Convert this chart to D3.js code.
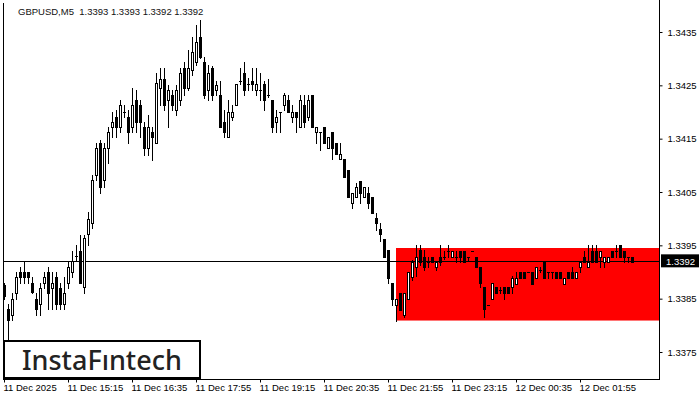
<!DOCTYPE html>
<html><head><meta charset="utf-8">
<script src="https://cdn.jsdelivr.net/npm/d3@7"></script>
<style>body{margin:0;background:#fff}svg{display:block}</style>
</head><body>
<svg id="c" width="700" height="400"></svg>
<script>
const opens=[1.33875,1.3383,1.3382,1.3386,1.3390,1.3390,1.3390,1.3388,1.3385,1.3384,1.3388,1.3390,1.3387,1.3389,1.3387,1.3384,1.3388,1.3390,1.3393,1.3394,1.33871,1.33972,
1.33991,1.34081,1.34141,1.34072,1.34132,1.34171,1.3419,1.34171,1.342,1.3419,1.34171,1.34222,1.34213,1.34171,1.34132,1.34162,1.34141,1.34245,1.34261,1.34222,1.34231,1.34203,1.34222,1.34282,1.34245,1.34278,1.34293,1.3434,1.34293,1.34241,1.34282,1.34241,1.34231,1.34181,1.34153,1.3419,1.34213,1.34259,1.34273,1.34252,1.34259,1.34241,1.34241,1.34252,1.34231,1.34222,1.34181,1.342,1.34213,1.34222,1.3419,1.342,1.34171,1.34213,1.3419,1.34231,
1.34162,1.34162,1.34171,1.34132,1.34162,1.34141,1.34111,1.34111,1.34091,1.34029,1.3404,1.3407,1.3404,1.34049,1.3404,1.34001,1.3398,1.33961,1.33941,1.3388,1.33839,
1.3386,1.3382,1.3385,1.3389,1.33909,1.33941,1.33929,1.33918,1.33929,1.33909,1.33929,1.33929,1.3394,1.33929,1.33929,1.3394,1.3394,1.33929,1.3394,1.33929,1.33909,1.33871,1.33839,1.3385,1.33871,1.33866,1.33871,1.33871,1.33871,1.33877,1.339,1.339,1.339,1.339,1.33888,1.33903,1.33918,1.339,1.339,1.339,1.339,1.33877,1.339,1.339,1.33888,1.33909,1.33929,1.33909,1.3394,1.3394,1.33929,1.33918,1.33918,1.3394,1.3394,1.3395,1.3394,1.33929,1.33929];
const highs=[1.3388,1.3384,1.3386,1.3390,1.3391,1.3392,1.3390,1.3389,1.3386,1.3388,1.3390,1.3391,1.3390,1.3390,1.3388,1.3389,1.3392,1.3394,1.3395,1.3397,1.3397,1.34012,
1.34081,1.34141,1.34147,1.34141,1.34171,1.342,1.34203,1.34222,1.34213,1.34203,1.34245,1.34241,1.34222,1.34181,1.34194,1.34171,1.34273,1.34282,1.34282,1.3425,1.34241,1.3425,1.34282,1.34293,1.34316,1.3434,1.34363,1.34372,1.34303,1.34288,1.34286,1.34259,1.34259,1.34203,1.34222,1.34213,1.34252,1.34282,1.34293,1.34263,1.34282,1.34282,1.34273,1.34259,1.34261,1.34222,1.34203,1.342,1.34236,1.34231,1.34213,1.342,1.34231,1.34231,1.34231,1.34231,
1.34171,1.34162,1.34171,1.34153,1.34162,1.34141,1.34141,1.34111,1.34091,1.34049,1.34066,1.3407,1.3406,1.3406,1.3404,1.3401,1.33991,1.33961,1.33941,1.3388,1.3385,
1.3386,1.3386,1.339,1.33922,1.3395,1.3395,1.33941,1.33929,1.33929,1.33918,1.3395,1.3394,1.3395,1.3394,1.3394,1.3394,1.3394,1.33929,1.3394,1.33929,1.33909,1.33871,1.33839,1.3388,1.33871,1.33871,1.33871,1.33871,1.33892,1.339,1.339,1.339,1.339,1.339,1.33909,1.33909,1.33918,1.339,1.339,1.339,1.339,1.33888,1.339,1.33909,1.339,1.33918,1.3394,1.3395,1.3395,1.3395,1.33929,1.33929,1.33929,1.3394,1.3395,1.3395,1.3394,1.33929,1.33929];
const lows=[1.3385,1.3376,1.3381,1.3385,1.3388,1.3388,1.3388,1.3386,1.3382,1.3382,1.3387,1.3383,1.3383,1.3383,1.3383,1.3383,1.3387,1.3389,1.3392,1.3388,1.3386,1.3395,
1.33982,1.34072,1.34049,1.34059,1.34104,1.34153,1.34153,1.34162,1.3419,1.34141,1.34162,1.34162,1.34153,1.34119,1.34119,1.3411,1.34141,1.34213,1.34203,1.34171,1.34203,1.34194,1.34213,1.34231,1.34241,1.34269,1.34288,1.34301,1.34227,1.34222,1.34222,1.34231,1.34171,1.34153,1.34153,1.34185,1.34213,1.34252,1.34231,1.34241,1.34241,1.34231,1.34222,1.34203,1.34229,1.34162,1.34162,1.34162,1.34203,1.342,1.34181,1.34162,1.34171,1.34171,1.34185,1.34171,
1.34141,1.34128,1.34141,1.34132,1.34111,1.34121,1.34111,1.34079,1.3404,1.3402,1.3404,1.34029,1.3404,1.3402,1.3401,1.33978,1.33959,1.33929,1.33879,1.33838,1.33809,
1.33828,1.33815,1.3385,1.33885,1.33892,1.33914,1.33903,1.33909,1.33918,1.33903,1.33914,1.33925,1.33929,1.33929,1.33918,1.33918,1.33918,1.33922,1.3394,1.33909,1.33871,1.33815,1.33839,1.3385,1.3386,1.3386,1.3385,1.3386,1.3386,1.33877,1.33888,1.33888,1.339,1.33877,1.33888,1.339,1.33888,1.33888,1.33888,1.33888,1.33888,1.33877,1.33888,1.33888,1.33888,1.339,1.33918,1.33909,1.33918,1.33918,1.33909,1.33909,1.33918,1.33929,1.33929,1.33929,1.33918,1.33918,1.33918];
const closes=[1.33855,1.3381,1.3385,1.3389,1.3389,1.3389,1.3389,1.33862,1.3383,1.3387,1.3389,1.3386,1.3388,1.3384,1.3384,1.3386,1.3391,1.3392,1.3393,1.3388,1.33963,1.3400,
1.34072,1.34132,1.34059,1.34132,1.34162,1.34181,1.34171,1.34213,1.342,1.34162,1.34213,1.34181,1.34181,1.34132,1.34171,1.34153,1.34254,1.34261,1.34213,1.34241,1.34213,1.34241,1.34273,1.34245,1.34282,1.34312,1.34331,1.34303,1.34231,1.34273,1.34231,1.3425,1.34171,1.34162,1.342,1.342,1.34252,1.34259,1.34241,1.34252,1.34252,1.34252,1.34241,1.34222,1.34231,1.34171,1.3419,1.342,1.34231,1.342,1.342,1.3419,1.34222,1.34181,1.34222,1.34171,
1.34171,1.34162,1.34141,1.34153,1.34132,1.34121,1.34121,1.34079,1.3404,1.34049,1.3406,1.34049,1.3406,1.34029,1.3401,1.33991,1.33971,1.33929,1.33888,1.3385,1.3385,
1.33828,1.3386,1.339,1.33918,1.33929,1.33918,1.33909,1.33918,1.33918,1.33918,1.33918,1.33929,1.3394,1.3394,1.33929,1.33929,1.33918,1.33929,1.3394,1.33909,1.3388,1.3383,1.33839,1.3388,1.3386,1.33866,1.3386,1.3386,1.33888,1.33888,1.33888,1.33888,1.339,1.33877,1.33909,1.33903,1.33888,1.339,1.339,1.33888,1.33888,1.33888,1.33888,1.33888,1.339,1.33918,1.33918,1.33918,1.33918,1.33918,1.3394,1.33929,1.33929,1.33929,1.3394,1.33929,1.33929,1.33929,1.33918];
const priceTicks=[1.3375,1.3385,1.3395,1.3405,1.3415,1.3425,1.3435];
const timeTickIndex=[0,16,32,48,64,80,96,112,128,144];
const timeTickLabels=["11 Dec 2025","11 Dec 15:15","11 Dec 16:35","11 Dec 17:55","11 Dec 19:15","11 Dec 20:35","11 Dec 21:55","11 Dec 23:15","12 Dec 00:35","12 Dec 01:55"];
const currentPrice=1.3392;
const zoneTop=1.33945, zoneBottom=1.33809, zoneStartIndex=98;
const titleText="GBPUSD,M5  1.3393 1.3393 1.3392 1.3392";

const svg=d3.select("#c");
const L=3,R=659,B=379;
const x=d3.scaleLinear().domain([0,157]).range([4,632]);
const y=d3.scaleLinear().domain([1.3375,1.3435]).range([352,32]);
const font="Liberation Sans, Arial, sans-serif";

svg.append("rect").attr("x",x(zoneStartIndex)).attr("y",y(zoneTop)).attr("width",R-x(zoneStartIndex)).attr("height",y(zoneBottom)-y(zoneTop)).attr("fill","#ff0000");
svg.append("line").attr("x1",L).attr("x2",R).attr("y1",Math.round(y(currentPrice))+0.5).attr("y2",Math.round(y(currentPrice))+0.5).attr("stroke","#000");

const idx=d3.range(opens.length);
const g=svg.append("g");
idx.forEach(i=>{
  const cx=Math.round(x(i))+0.5;
  g.append("line").attr("x1",cx).attr("x2",cx).attr("y1",Math.round(y(highs[i]))).attr("y2",Math.round(y(lows[i]))+1).attr("stroke","#000");
  const t=Math.round(y(Math.max(opens[i],closes[i]))), b=Math.round(y(Math.min(opens[i],closes[i])));
  if(b-t<1){
    g.append("line").attr("x1",cx-1.5).attr("x2",cx+1.5).attr("y1",t+0.5).attr("y2",t+0.5).attr("stroke","#000");
  } else {
    g.append("rect").attr("x",cx-1).attr("y",t+0.5).attr("width",2).attr("height",b-t)
     .attr("fill",closes[i]>=opens[i]?"#fff":"#000").attr("stroke","#000");
  }
});

svg.append("line").attr("x1",L+0.5).attr("x2",L+0.5).attr("y1",3).attr("y2",B).attr("stroke","#000");
svg.append("line").attr("x1",R+0.5).attr("x2",R+0.5).attr("y1",0).attr("y2",B).attr("stroke","#000");
svg.append("line").attr("x1",L).attr("x2",R+1).attr("y1",B+0.5).attr("y2",B+0.5).attr("stroke","#000");

const ya=svg.append("g").attr("transform",`translate(${R+0.5},0)`).call(d3.axisRight(y).tickValues(priceTicks).tickSize(3).tickFormat(d3.format(".4f")));
ya.select(".domain").remove();
ya.selectAll("text").attr("font-family",font).attr("font-size",9.5).attr("fill","#000").attr("x",8);
ya.selectAll("line").attr("stroke","#000");

const xa=svg.append("g").attr("transform",`translate(0,${B+0.5})`).call(d3.axisBottom(x).tickValues(timeTickIndex).tickSize(3).tickFormat((d,i)=>timeTickLabels[i]));
xa.select(".domain").remove();
xa.selectAll("text").attr("font-family",font).attr("font-size",9.5).attr("fill","#000").attr("text-anchor","start").attr("x",-1).attr("dy","0.6em");
xa.selectAll("line").attr("stroke","#000");

const py=y(currentPrice);
svg.append("rect").attr("x",R+2).attr("y",py-7).attr("width",38).attr("height",13).attr("fill","#000");
svg.append("text").attr("x",R+7).attr("y",py+4).attr("fill","#fff").attr("font-family",font).attr("font-size",9.5).text(d3.format(".4f")(currentPrice));

svg.append("text").attr("x",18).attr("y",15).attr("font-family",font).attr("font-size",9.5).attr("fill","#111").attr("xml:space","preserve").text(titleText);

svg.append("rect").attr("x",4).attr("y",341).attr("width",196).attr("height",37).attr("fill","#fff").attr("stroke","#000").attr("stroke-width",2);
svg.append("text").attr("x",22).attr("y",370).attr("font-family","Noto Sans, sans-serif").attr("font-size",27).attr("font-weight",500).attr("fill","#222").text("InstaFıntech");
</script></body></html>
